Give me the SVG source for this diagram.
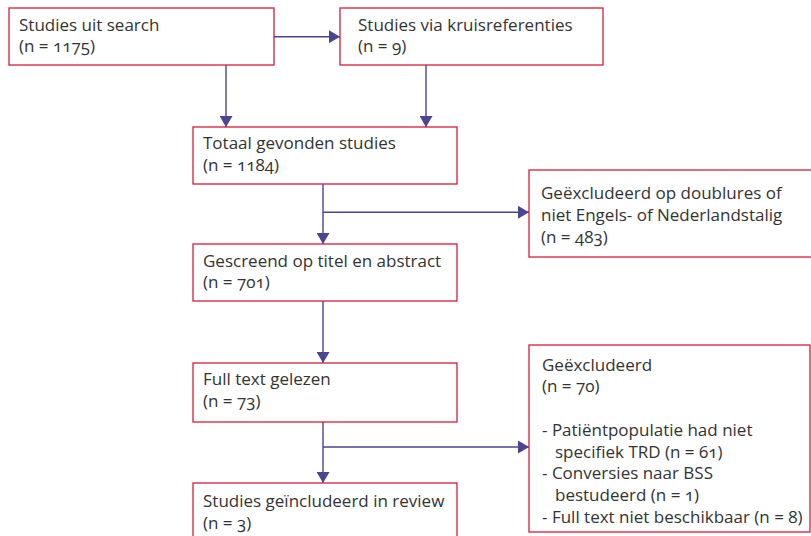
<svg xmlns="http://www.w3.org/2000/svg" width="811" height="536" viewBox="0 0 811 536">
<defs>
<style>
.box{fill:#fff;stroke:#d51c3c;stroke-width:1.3}
.t{font-family:"Open Sans","Liberation Sans",sans-serif;font-size:17px;fill:#333;font-variant-numeric:oldstyle-nums}
.c{fill:none;stroke:#4b4490;stroke-width:1.4}
</style>
<marker id="ah" markerUnits="userSpaceOnUse" markerWidth="12" markerHeight="13" refX="11" refY="6.5" orient="auto">
<path d="M0,0 L11,6.5 L0,13 z" fill="#4b4490"/>
</marker>
</defs>
<rect width="811" height="536" fill="#fff"/>
<g id="connectors">
<path class="c" d="M274,36.7 H340" marker-end="url(#ah)"/>
<path class="c" d="M226,65 V127" marker-end="url(#ah)"/>
<path class="c" d="M426,65 V127" marker-end="url(#ah)"/>
<path class="c" d="M323,184 V244" marker-end="url(#ah)"/>
<path class="c" d="M323,212.3 H529" marker-end="url(#ah)"/>
<path class="c" d="M323,301 V363" marker-end="url(#ah)"/>
<path class="c" d="M323,422 V483" marker-end="url(#ah)"/>
<path class="c" d="M323,447 H529" marker-end="url(#ah)"/>
</g>
<g id="n1">
<rect class="box" x="9" y="8" width="265" height="57"/>
<text class="t" x="19" y="30.7">Studies uit search</text>
<text class="t" x="19" y="52.4">(n = 1175)</text>
</g>
<g id="n2">
<rect class="box" x="340" y="8" width="263" height="57"/>
<text class="t" x="358" y="30.7">Studies via kruisreferenties</text>
<text class="t" x="358" y="52.4">(n = 9)</text>
</g>
<g id="n3">
<rect class="box" x="193" y="127" width="264" height="57"/>
<text class="t" x="203" y="149.3">Totaal gevonden studies</text>
<text class="t" x="203" y="171">(n = 1184)</text>
</g>
<g id="n4">
<rect class="box" x="529" y="170" width="300" height="87"/>
<text class="t" x="541" y="199.3">Geëxcludeerd op doublures of</text>
<text class="t" x="541" y="221">niet Engels- of Nederlandstalig</text>
<text class="t" x="541" y="242.7">(n = 483)</text>
</g>
<g id="n5">
<rect class="box" x="193" y="244" width="264" height="57"/>
<text class="t" x="203" y="266.7">Gescreend op titel en abstract</text>
<text class="t" x="203" y="288.4">(n = 701)</text>
</g>
<g id="n6">
<rect class="box" x="193" y="363" width="264" height="59"/>
<text class="t" x="203" y="385">Full text gelezen</text>
<text class="t" x="203" y="406.7">(n = 73)</text>
</g>
<g id="n7">
<rect class="box" x="529" y="345" width="281" height="187"/>
<text class="t" x="542" y="370.7">Geëxcludeerd</text>
<text class="t" x="542" y="392.4">(n = 70)</text>
<text class="t" x="542" y="435.8">- Patiëntpopulatie had niet</text>
<text class="t" x="555" y="457.5">specifiek TRD (n = 61)</text>
<text class="t" x="542" y="479.2">- Conversies naar BSS</text>
<text class="t" x="555" y="500.9">bestudeerd (n = 1)</text>
<text class="t" x="542" y="522.6">- Full text niet beschikbaar (n = 8)</text>
</g>
<g id="n8">
<rect class="box" x="193" y="483" width="264" height="60"/>
<text class="t" x="203" y="507">Studies geïncludeerd in review</text>
<text class="t" x="203" y="528.7">(n = 3)</text>
</g>
</svg>
